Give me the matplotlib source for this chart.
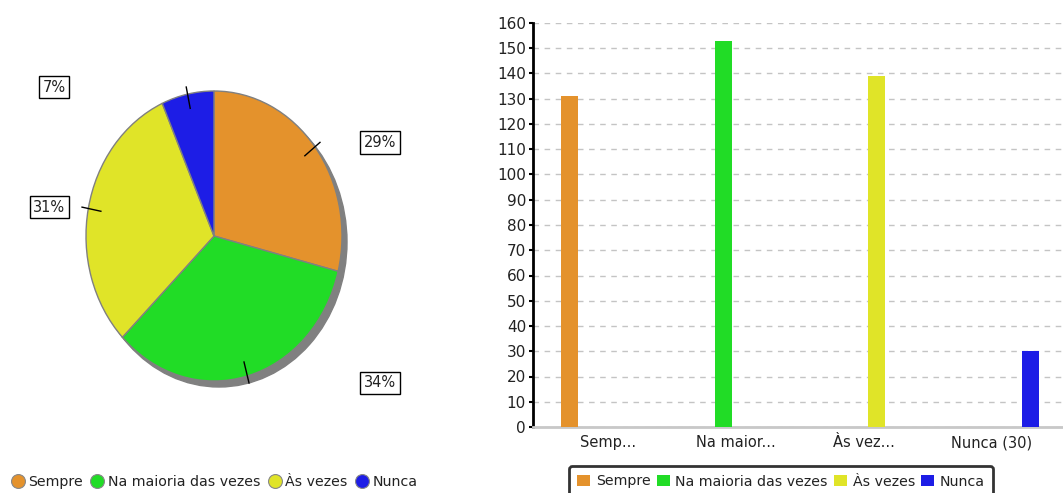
import numpy as np
import matplotlib
matplotlib.use("Agg")
import matplotlib.pyplot as plt
from matplotlib.patches import Ellipse, Patch
from matplotlib.lines import Line2D

# data
series = ["Sempre", "Na maioria das vezes", "Às vezes", "Nunca"]
bar_labels = ["Semp...", "Na maior...", "Às vez...", "Nunca (30)"]
counts = [131, 153, 139, 30]
colors = ["#E4922C", "#21DC26", "#E0E428", "#1D1DE6"]
yticks = list(range(0, 161, 10))

W, H = 1063, 493
fig = plt.figure(figsize=(W / 100, H / 100), dpi=100)
plt.rcParams['font.family'] = ['DejaVu Sans']

# ---- pie (left) ----
cx, cy, rx, ry = 214, 236, 128, 145
ax1 = fig.add_axes([0, 0, 430 / W, 1])

ax1.add_patch(Ellipse((5 / rx, -6 / ry), 2, 2, color="#808080", zorder=0))
wedges, _ = ax1.pie(counts, colors=colors, startangle=90, counterclock=False,
                    wedgeprops=dict(edgecolor="#808080", linewidth=1))
ax1.set_aspect('auto')
ax1.set_xlim(-cx / rx, (430 - cx) / rx)
ax1.set_ylim(-(H - cy) / ry, cy / ry)
ax1.axis('off')

total = sum(counts)
for w, v in zip(wedges, counts):
    mid = np.radians((w.theta1 + w.theta2) / 2)
    c, s = np.cos(mid), np.sin(mid)
    ax1.plot([0.9 * c, 1.05 * c], [0.9 * s, 1.05 * s], color="black", lw=1, zorder=5)
    ty = 1.05 * s
    if c >= 0:
        tx, ha = 1.17, 'left'
    else:
        tx, ha = -1.16, 'right'
    ax1.text(tx, ty, f"{round(100 * v / total)}%", ha=ha, va='center', fontsize=10.5,
             color="#222222",
             bbox=dict(boxstyle="square,pad=0.25", facecolor="white", edgecolor="black", lw=1))

pie_handles = [Line2D([], [], marker='o', ls='', markersize=10, markerfacecolor=c,
                      markeredgecolor="#888888", markeredgewidth=0.8) for c in colors]
fig.legend(pie_handles, series, loc='center', bbox_to_anchor=(214 / W, 1 - 482 / H),
           ncol=4, frameon=False, fontsize=10.2, handletextpad=0.25, columnspacing=0.5,
           handlelength=1.0, borderaxespad=0, labelcolor="#222222")

# ---- bars (right) ----
ax2 = fig.add_axes([533 / W, 1 - 427 / H, (W - 533) / W, (427 - 23) / H])
x = np.arange(len(bar_labels))
slot = 0.2016
for i, (v, c) in enumerate(zip(counts, colors)):
    ax2.bar(x[i] + (i - 1.5) * slot, v, width=0.133, color=c, zorder=3)

ax2.set_xlim(-75 / 128, (W - 608) / 128)
ax2.set_ylim(0, 160)
ax2.set_yticks(yticks)
ax2.set_xticks(x)
ax2.set_xticklabels(bar_labels)
ax2.tick_params(axis='y', labelsize=11, length=3, width=1.5, pad=2, colors="black",
                labelcolor="#222222")
ax2.tick_params(axis='x', labelsize=10.5, length=0, pad=6, labelcolor="#222222")
ax2.grid(axis='y', color="#c4c4c4", linestyle=(0, (4, 4)), lw=1, zorder=0)
for s in ['top', 'right']:
    ax2.spines[s].set_visible(False)
ax2.spines['left'].set_linewidth(2)
ax2.spines['left'].set_color("black")
ax2.spines['bottom'].set_linewidth(2)
ax2.spines['bottom'].set_color("#c8c8c8")

bar_handles = [Patch(facecolor=c) for c in colors]
leg = fig.legend(bar_handles, series, loc='upper center', bbox_to_anchor=(781 / W, 1 - 466 / H),
                 ncol=4, frameon=True, fontsize=10.2, handletextpad=0.4, columnspacing=0.45,
                 handlelength=0.9, handleheight=0.9, borderaxespad=0, fancybox=True,
                 borderpad=0.6, labelcolor="#222222")
leg.get_frame().set_edgecolor("black")
leg.get_frame().set_linewidth(2)

fig.savefig("out.png", dpi=100)
